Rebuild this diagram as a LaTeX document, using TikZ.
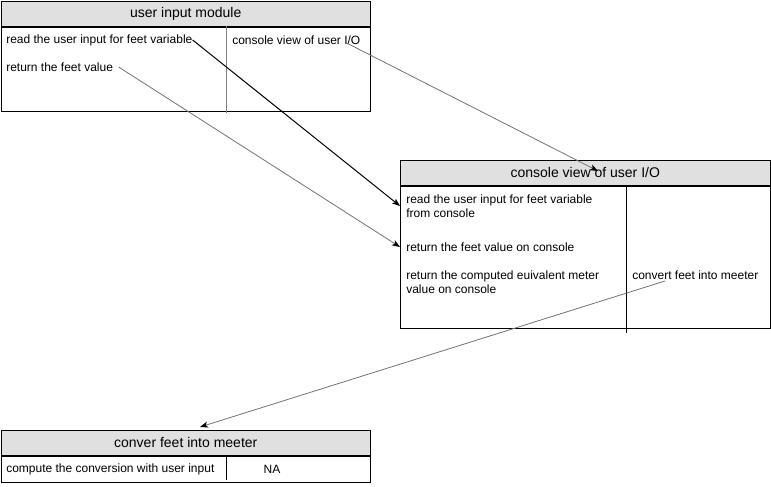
\documentclass[tikz,border=0pt]{standalone}
\usepackage{fontspec}
\setmainfont{Liberation Sans}
\usepackage{xcolor}
\usetikzlibrary{arrows.meta,positioning,calc}

\begin{document}
\begin{tikzpicture}[
    x=0.75pt, y=-0.75pt,
    hdr/.style={rectangle, draw, fill=black!12, anchor=north west, minimum height=18.75pt, inner sep=0pt, font=\fontsize{10.5}{12}\selectfont},
    bodybox/.style={rectangle, draw, fill=white, anchor=north, inner sep=0pt},
    txt/.style={anchor=west, inner sep=0pt, align=left, font=\fontsize{9}{10.5}\selectfont},
    divider/.style={black, line width=0.6pt},
    % Edge styles
    bedge/.style={black, line width=0.75pt, -{Stealth[length=6pt, width=4.5pt, inset=1.5pt]}},
    gedge/.style={black!55, line width=0.6pt, -{Stealth[length=6pt, width=4.5pt, inset=1.5pt, black]}},
    ]
    \useasboundingbox (0,0) rectangle (771,486);

    % user input module
    \node[hdr, minimum width=276.75pt] (h1) at (1,1) {user input module};
    \node[bodybox, minimum width=276.75pt, minimum height=63pt] (b1) at (h1.south) {};
    \draw[divider, black!50] (226,26) -- (226,113);
    \node[txt] (r1) at (6,40) {read the user input for feet variable};
    \node[txt] (c1) at (232,40) {console view of user I/O};
    \node[txt] (r2) at (6,67) {return the feet value};

    % console view of user I/O
    \node[hdr, minimum width=277.5pt] (h2) at (400,160) {console view of user I/O};
    \node[bodybox, minimum width=277.5pt, minimum height=106.5pt] (b2) at (h2.south) {};
    \draw[divider] (626,185) -- (626,333);
    \node[txt] (s1) at (406,206) {read the user input for feet variable\\from console};
    \node[txt] (s2) at (406,247) {return the feet value on console};
    \node[txt] (s3) at (406,282) {return the computed euivalent meter\\value on console};
    \node[txt] (s4) at (632,275) {convert feet into meeter};

    % conver feet into meeter
    \node[hdr, minimum width=276.75pt] (h3) at (1,430) {conver feet into meeter};
    \node[bodybox, minimum width=276.75pt, minimum height=19.5pt] (b3) at (h3.south) {};
    \draw[divider] (226,456) -- (226,480);
    \node[txt] (u1) at (6,469) {compute the conversion with user input};
    \node[txt, anchor=center] (u2) at (272,469) {NA};

    % arrow end points
    \coordinate (p3) at (598,171);
    \coordinate (p4) at (200,427);

    % connections
    \draw[bedge] (r1.east) -- (s1.west -| b2.west);
    \draw[gedge] ([xshift=4pt]r2.east) -- (s2.west -| b2.west);
    \draw[gedge] ([shift={(-11pt,-2pt)}]c1.east) -- (p3);
    \draw[gedge] ([shift={(24.75pt,-4.5pt)}]s4.west) -- (p4);

\end{tikzpicture}
\end{document}
